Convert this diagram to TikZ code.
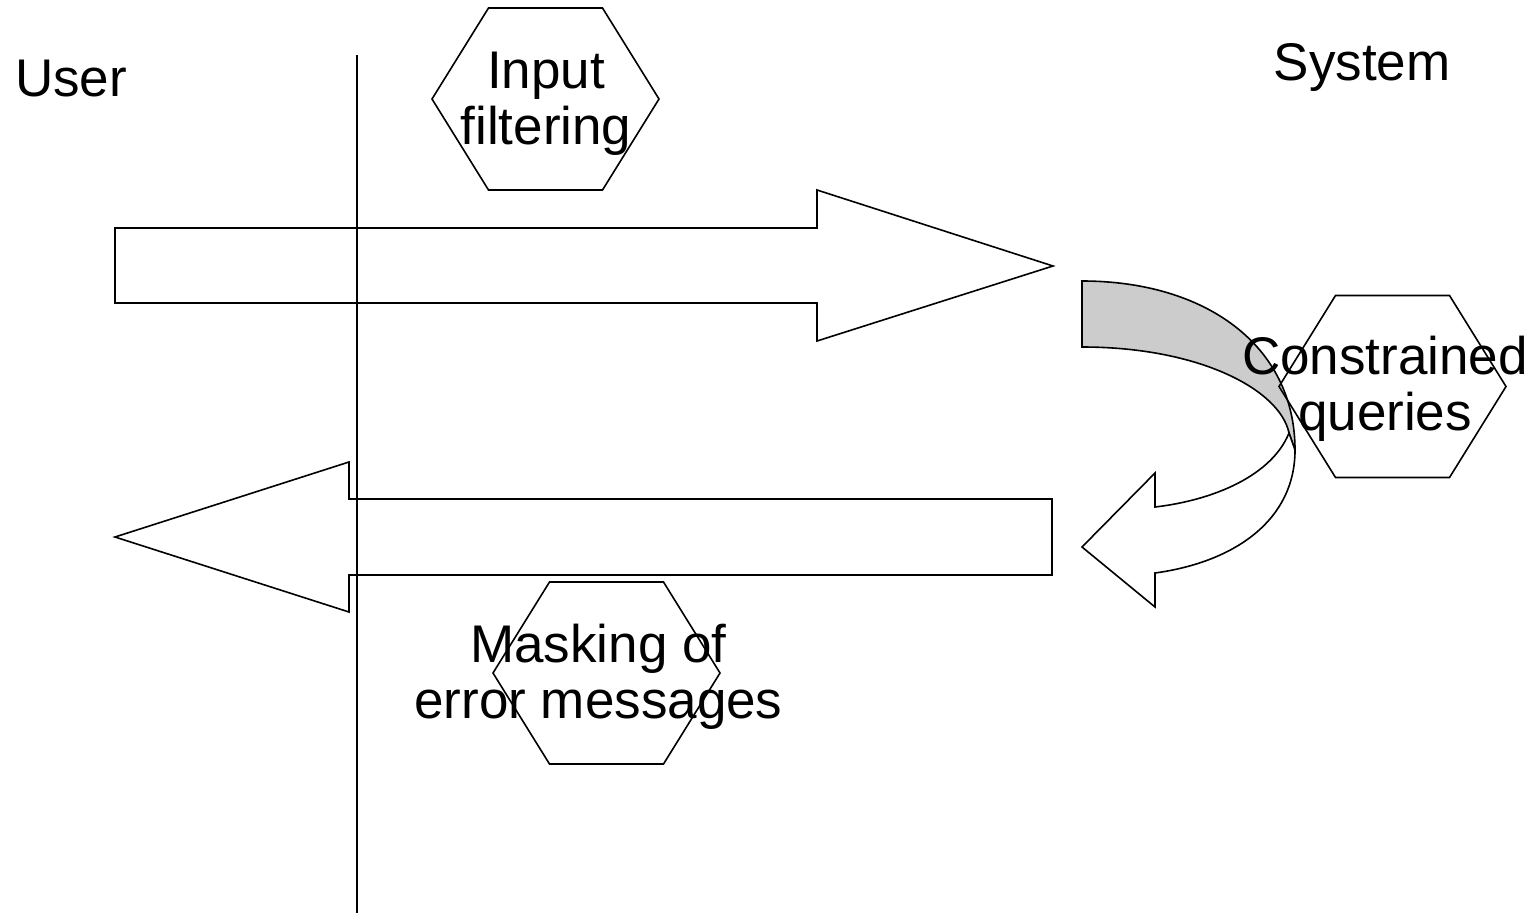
\documentclass[tikz,border=0pt]{standalone}
\usepackage{fontspec}
\setmainfont{Liberation Sans}
\usepackage{xcolor}
\usetikzlibrary{positioning}
\definecolor{bandgray}{RGB}{204,204,204}

\begin{document}
\begin{tikzpicture}[
    x=1pt, y=-1pt,
    outline/.style={draw=black, line width=1.6pt, line join=miter},
    band/.style={outline, fill=bandgray},
    front/.style={outline, fill=white},
    lbl/.style={inner sep=0, font=\fontsize{53}{56}\selectfont, align=center},
    hexagon/.pic={\path[outline] (-113.5,0) -- (-57,91) -- (57,91) -- (113.5,0) -- (57,-91) -- (-57,-91) -- cycle;}]
\useasboundingbox (0,0) rectangle (1534,913);

\coordinate (lanetop) at (357,55);
\coordinate (lanebot) at (357,913);

\path[outline] (115,228) -- (817,228) -- (817,190) -- (1053,266) -- (817,341) -- (817,303) -- (115,303) -- cycle;
\path[outline] (1052,499) -- (349,499) -- (349,462) -- (115,537) -- (349,612) -- (349,575) -- (1052,575) -- cycle;

\path[draw, line width=1.6pt] (lanetop) -- (lanebot);

\path[band] (1082,281) .. controls (1205,281) and (1295,345) .. (1295,450) -- (1289,433)
    .. controls (1280,390) and (1200,347) .. (1082,347) -- cycle;
\path[front] (1289,433) .. controls (1272,475) and (1215,500) .. (1155,507) -- (1155,473) -- (1082,547)
    -- (1155,607) -- (1155,573) .. controls (1235,562) and (1295,520) .. (1295,450) -- cycle;

\coordinate (filthex) at (545.5,99);
\coordinate (maskhex) at (606.5,673);
\coordinate (conshex) at (1392.5,386.5);
\pic at (filthex) {hexagon};
\pic at (maskhex) {hexagon};
\pic at (conshex) {hexagon};

\node[lbl, anchor=base] (user) at (71,96) {User};
\node[lbl, anchor=base] (system) at (1362,80) {System};
\node[lbl] (filt) at (546,103.5) {Input\\filtering};
\node[lbl] (mask) at (598.5,676.5) {Masking of\\error messages};
\node[lbl] (cons) at (1385,389) {Constrained\\queries};

\end{tikzpicture}
\end{document}
